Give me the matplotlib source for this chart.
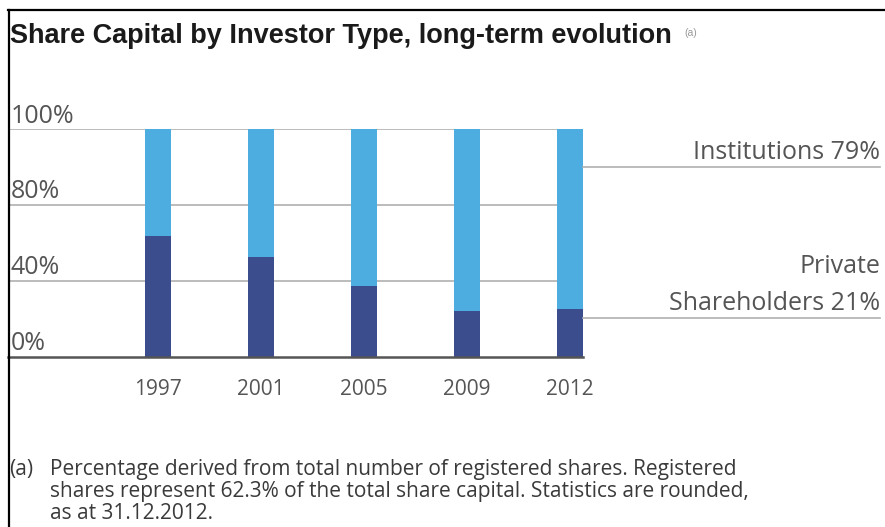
import matplotlib
matplotlib.use("Agg")
import matplotlib.pyplot as plt
from matplotlib.lines import Line2D

plt.rcParams['font.family'] = ['Liberation Sans', 'DejaVu Sans']

years = ["1997", "2001", "2005", "2009", "2012"]
private = [53, 44, 31, 20, 21]
institutions = [47, 56, 69, 80, 79]
tick_values = [0, 33.33, 66.67, 100]
tick_labels = ["0%", "40%", "80%", "100%"]

W, H = 885, 527
fig = plt.figure(figsize=(W / 100, H / 100), dpi=100)

def fx(px):
    return px / W

def fy(py):
    return 1 - py / H

dark = "#3c4d8e"
light = "#4eade0"
txt = "#555555"
lab_font = ['Open Sans', 'DejaVu Sans']

# axes: left 8px, right 583px, top 129.3px, bottom 356.7px
ax = fig.add_axes([fx(8), fy(356.7), fx(583) - fx(8), (356.7 - 129.3) / H])
x = list(range(len(years)))
ax.bar(x, private, width=0.252, color=dark, zorder=3)
ax.bar(x, institutions, width=0.252, bottom=private, color=light, zorder=3)
ax.set_xlim(-150 / 103, 4 + 13 / 103)
ax.set_ylim(0, 100)
for s in ax.spines.values():
    s.set_visible(False)
ax.set_xticks([])
ax.set_yticks([])
for v, lab in zip(tick_values, tick_labels):
    if v == 0:
        ax.axhline(v, color="#555555", lw=1.8, zorder=4, clip_on=False)
    else:
        ax.axhline(v, color="#b0b0b0", lw=1.2, zorder=1)
    ax.annotate(lab, xy=(0, v), xycoords=("axes fraction", "data"),
                xytext=(2, 4.8), textcoords="offset points",
                ha="left", va="baseline", fontsize=18, color=txt,
                family=lab_font)
for xi, y in zip(x, years):
    ax.annotate(y, xy=(xi, 0), xycoords="data", xytext=(0, -27.5),
                textcoords="offset points", ha="center", va="baseline",
                fontsize=15, color=txt, family=lab_font)

# right-side label lines
fig.add_artist(Line2D([fx(583), fx(880)], [fy(167.3), fy(167.3)],
                      color="#b0b0b0", lw=1.2))
fig.add_artist(Line2D([fx(583), fx(880)], [fy(318.3), fy(318.3)],
                      color="#b0b0b0", lw=1.2))
fig.text(fx(880), fy(159), "Institutions " + str(institutions[-1]) + "%",
         ha="right", va="baseline", fontsize=18, color=txt, family=lab_font)
fig.text(fx(880), fy(273), "Private", ha="right", va="baseline",
         fontsize=18, color=txt, family=lab_font)
fig.text(fx(880), fy(310), "Shareholders " + str(private[-1]) + "%",
         ha="right", va="baseline", fontsize=18, color=txt, family=lab_font)

# frame
fig.add_artist(Line2D([fx(8.5), fx(8.5)], [fy(10), 0], color="black", lw=1.6))
fig.add_artist(Line2D([fx(8), 1], [fy(10), fy(10)], color="black", lw=1.6))

# title
fig.text(fx(10), fy(43), "Share Capital by Investor Type, long-term evolution",
         ha="left", va="baseline", fontsize=19.5, fontweight="bold",
         color="#1a1a1a")
fig.text(fx(684), fy(36), "(a)", ha="left", va="baseline", fontsize=7.5,
         color="#999999")

# footnote
fc = "#3a3a3a"
ff = ['Open Sans', 'DejaVu Sans']
fs = 15
fig.text(fx(9), fy(475), "(a)", ha="left", va="baseline", fontsize=fs, color=fc, family=ff)
fig.text(fx(50), fy(475), "Percentage derived from total number of registered shares. Registered",
         ha="left", va="baseline", fontsize=fs, color=fc, family=ff)
fig.text(fx(50), fy(497), "shares represent 62.3% of the total share capital. Statistics are rounded,",
         ha="left", va="baseline", fontsize=fs, color=fc, family=ff)
fig.text(fx(50), fy(519), "as at 31.12.2012.",
         ha="left", va="baseline", fontsize=fs, color=fc, family=ff)

fig.savefig("out.png", dpi=100, facecolor="white")
